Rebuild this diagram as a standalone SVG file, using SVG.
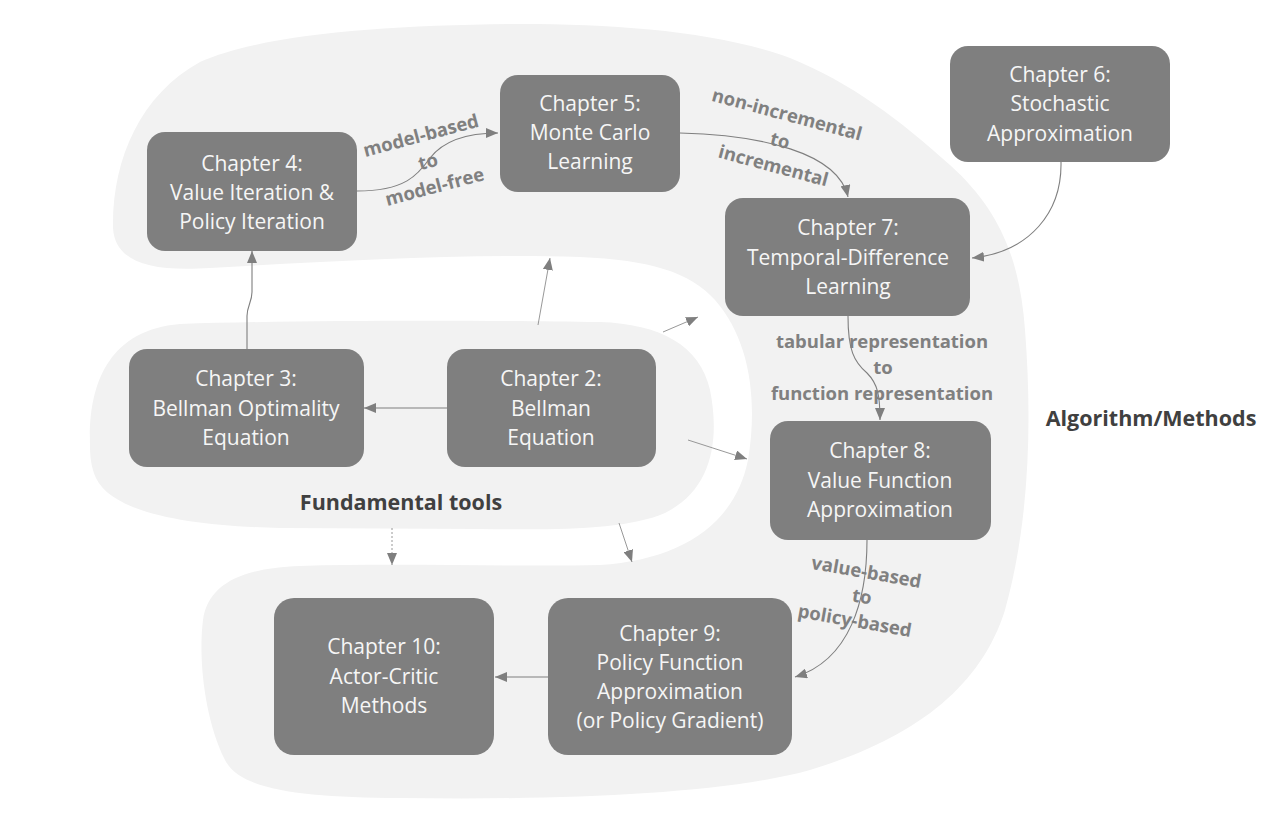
<svg xmlns="http://www.w3.org/2000/svg" width="1271" height="814" viewBox="0 0 1271 814">
<style>
.blob{fill:#f2f2f2;stroke:none}
.node rect{fill:#7f7f7f}
.node text{font-family:"Open Sans","Liberation Sans",sans-serif;font-size:21px;fill:#f6f6f6;text-anchor:middle}
.lbl{font-family:"Open Sans","Liberation Sans",sans-serif;font-size:18.5px;font-weight:700;fill:#808080;text-anchor:middle}
.title{font-family:"Open Sans","Liberation Sans",sans-serif;font-size:21.5px;font-weight:700;fill:#404040;text-anchor:middle}
.c{fill:none;stroke:#7f7f7f;stroke-width:1.1}
.t{fill:none;stroke:#8c8c8c;stroke-width:0.9}
.d{fill:none;stroke:#8c8c8c;stroke-width:0.9;stroke-dasharray:2 2}
</style>
<defs>
<marker id="ah" viewBox="0 0 12 10" refX="12" refY="5" markerWidth="12" markerHeight="10" markerUnits="userSpaceOnUse" orient="auto">
<path d="M0,0 L12,5 L0,10 Z" fill="#7f7f7f"/>
</marker>
</defs>
<rect x="0" y="0" width="1271" height="814" fill="#ffffff"/>
<g id="regions">
<path id="algorithm-region" class="blob" d="M113,228 C112,160 140,95 200,62 C260,35 380,25 520,24 C620,24 720,32 790,58 C850,82 900,120 950,165 C1000,210 1020,260 1025,330 C1032,420 1030,520 1005,610 C980,690 910,740 810,770 C720,795 560,800 400,798 C300,797 240,790 225,760 C205,720 198,660 203,620 C208,585 240,568 300,566 C400,563 520,567 600,565 C680,560 735,525 748,460 C758,400 750,340 715,300 C690,272 650,260 580,257 C460,253 320,262 210,268 C150,272 115,262 113,228 Z"/>
<path id="fundamental-region" class="blob" d="M90,445 C88,385 108,330 180,324 C300,320 480,320 600,322 C660,324 700,345 710,390 C720,440 712,490 665,513 C625,530 560,530 480,529 L280,528 C185,526 112,512 96,478 C91,467 90,456 90,445 Z"/>
</g>
<g id="connectors">
<path class="c" d="M357,191 C405,191 418,175 430,158 C444,140 470,133 498,133" marker-end="url(#ah)"/>
<path class="c" d="M680,133 C760,135 838,152 848,197" marker-end="url(#ah)"/>
<path class="c" d="M1061,162 C1062,212 1030,252 972,258" marker-end="url(#ah)"/>
<path class="c" d="M848,316 C848,350 854,362 867,373 C878,384 880,396 880,420" marker-end="url(#ah)"/>
<path class="c" d="M867,540 C867,600 850,660 795,677" marker-end="url(#ah)"/>
<path class="c" d="M247,349 L247,316 C247,306 252,302 252,292 L252,251" marker-end="url(#ah)"/>
<path class="c" d="M447,408 L364,408" marker-end="url(#ah)"/>
<path class="c" d="M548,677 L495,677" marker-end="url(#ah)"/>
<path class="t" d="M538,325 L550,258" marker-end="url(#ah)"/>
<path class="t" d="M663,332 L698,317" marker-end="url(#ah)"/>
<path class="t" d="M688,440 L747,459" marker-end="url(#ah)"/>
<path class="d" d="M392,528 L392,565" marker-end="url(#ah)"/>
<path class="t" d="M619,523 L632,562" marker-end="url(#ah)"/>
</g>
<g id="labels">
<g transform="translate(428,162) rotate(-15)">
<text class="lbl" x="0" y="-21">model-based</text>
<text class="lbl" x="0" y="6">to</text>
<text class="lbl" x="0" y="32">model-free</text>
</g>
<g transform="translate(780,141) rotate(15)">
<text class="lbl" x="0" y="-21">non-incremental</text>
<text class="lbl" x="0" y="6">to</text>
<text class="lbl" x="0" y="32">incremental</text>
</g>
<text class="lbl" x="882" y="348">tabular representation</text>
<text class="lbl" x="883" y="374">to</text>
<text class="lbl" x="882" y="400">function representation</text>
<g transform="translate(862,597) rotate(10)">
<text class="lbl" x="0" y="-19">value-based</text>
<text class="lbl" x="0" y="6">to</text>
<text class="lbl" x="-3" y="31">policy-based</text>
</g>
<text class="title" x="401" y="510">Fundamental tools</text>
<text class="title" x="1151" y="426">Algorithm/Methods</text>
</g>
<g id="ch4" class="node"><rect x="147" y="132" width="210" height="119" rx="18"/>
<text x="252" y="171">Chapter 4:</text><text x="252" y="200">Value Iteration &amp;</text><text x="252" y="229">Policy Iteration</text></g>
<g id="ch5" class="node"><rect x="500" y="75" width="180" height="117" rx="18"/>
<text x="590" y="111">Chapter 5:</text><text x="590" y="140">Monte Carlo</text><text x="590" y="169">Learning</text></g>
<g id="ch6" class="node"><rect x="950" y="46" width="220" height="116" rx="18"/>
<text x="1060" y="82">Chapter 6:</text><text x="1060" y="111">Stochastic</text><text x="1060" y="141">Approximation</text></g>
<g id="ch7" class="node"><rect x="725" y="198" width="245" height="118" rx="18"/>
<text x="848" y="235">Chapter 7:</text><text x="848" y="265">Temporal-Difference</text><text x="848" y="294">Learning</text></g>
<g id="ch3" class="node"><rect x="129" y="349" width="235" height="118" rx="18"/>
<text x="246" y="386">Chapter 3:</text><text x="246" y="416">Bellman Optimality</text><text x="246" y="445">Equation</text></g>
<g id="ch2" class="node"><rect x="447" y="349" width="209" height="118" rx="18"/>
<text x="551" y="386">Chapter 2:</text><text x="551" y="416">Bellman</text><text x="551" y="445">Equation</text></g>
<g id="ch8" class="node"><rect x="770" y="421" width="221" height="119" rx="18"/>
<text x="880" y="458">Chapter 8:</text><text x="880" y="488">Value Function</text><text x="880" y="517">Approximation</text></g>
<g id="ch10" class="node"><rect x="274" y="598" width="220" height="157" rx="20"/>
<text x="384" y="654">Chapter 10:</text><text x="384" y="684">Actor-Critic</text><text x="384" y="713">Methods</text></g>
<g id="ch9" class="node"><rect x="548" y="598" width="244" height="157" rx="20"/>
<text x="670" y="641">Chapter 9:</text><text x="670" y="670">Policy Function</text><text x="670" y="699">Approximation</text><text x="670" y="728">(or Policy Gradient)</text></g>
</svg>
